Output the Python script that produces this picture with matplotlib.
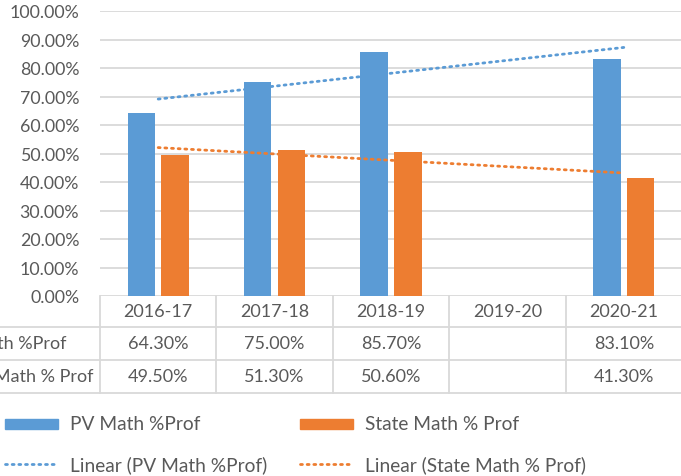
import numpy as np
import matplotlib.pyplot as plt
from matplotlib import transforms
from matplotlib.patches import Rectangle
from matplotlib.lines import Line2D

plt.rcParams['font.family'] = ['Lato', 'DejaVu Sans']

# data
years = ['2016-17', '2017-18', '2018-19', '2019-20', '2020-21']
pv_math = [64.3, 75.0, 85.7, np.nan, 83.1]
state_math = [49.5, 51.3, 50.6, np.nan, 41.3]
pv_label = 'PV Math %Prof'
state_label = 'State Math % Prof'

blue = '#5B9BD5'
orange = '#ED7D31'
txt = '#595959'
grid = '#D9D9D9'
dots = (0, (0.7, 1.7))

W, H = 681, 477
fig = plt.figure(figsize=(W / 100, H / 100), dpi=100)
fx = lambda p: p / W
fy = lambda p: 1 - p / H

ax = fig.add_axes([fx(100), fy(297), 582 / W, 285 / H])
x = np.arange(1, len(years) + 1)
pv = np.array(pv_math) / 100
st = np.array(state_math) / 100

bw = 0.235
ax.bar(x - 0.145, pv, bw, color=blue, zorder=3)
ax.bar(x + 0.145, st, bw, color=orange, zorder=3)

# linear trendlines (excel style, fitted on the available points)
for y, c in [(pv, blue), (st, orange)]:
    ok = ~np.isnan(y)
    k, b = np.polyfit(x[ok], y[ok], 1)
    xs = np.array([x[0], x[-1]])
    ax.plot(xs, k * xs + b, color=c, lw=2, ls=dots,
            dash_capstyle='round', zorder=4)

ax.set_xlim(0.5, len(years) + 0.5)
ax.set_ylim(0, 1.0)
ax.set_yticks(np.arange(0, 1.01, 0.1))
ax.set_yticklabels([f'{v * 100:.2f}%' for v in np.arange(0, 1.01, 0.1)],
                   fontsize=12.8, color=txt)
ax.tick_params(axis='y', length=0, pad=15)
ax.set_xticks([])
ax.grid(axis='y', color=grid, lw=1.3, zorder=0)
for s in ax.spines.values():
    s.set_visible(False)

# data table under the axis
tr = transforms.blended_transform_factory(ax.transData, fig.transFigure)
lkw = dict(color=grid, lw=1.3, clip_on=False)
for py in [328, 361, 394]:
    fig.add_artist(Line2D([0, 1], [fy(py), fy(py)], transform=fig.transFigure, **lkw))
fig.add_artist(Line2D([fx(100), fx(100)], [fy(297), fy(394)], transform=fig.transFigure, **lkw))
for bx in np.arange(1.5, len(years), 1.0):
    ax.plot([bx, bx], [fy(297), fy(394)], transform=tr, **lkw)

for i, yr in enumerate(years):
    ax.text(x[i], fy(312), yr, transform=tr, ha='center', va='center',
            fontsize=13, color=txt)
    for vals, py in [(pv_math, 344), (state_math, 377)]:
        if not np.isnan(vals[i]):
            ax.text(x[i], fy(py), f'{vals[i]:.2f}%', transform=tr, ha='center',
                    va='center', fontsize=13, color=txt)
fig.text(fx(67), fy(344), pv_label, ha='right', va='center', fontsize=13, color=txt)
fig.text(fx(93), fy(377), state_label, ha='right', va='center', fontsize=13, color=txt)

# legend
for lx, c, lab in [(5, blue, pv_label), (300, orange, state_label)]:
    fig.add_artist(Rectangle((fx(lx), fy(430)), 53 / W, 10 / H, color=c,
                             transform=fig.transFigure))
    fig.text(fx(lx + 65), fy(425), lab, ha='left', va='center', fontsize=13.8, color=txt)
    fig.add_artist(Line2D([fx(lx), fx(lx + 50)], [fy(465), fy(465)], color=c, lw=2,
                          ls=dots, dash_capstyle='round',
                          transform=fig.transFigure))
    fig.text(fx(lx + 65), fy(465), f'Linear ({lab})', ha='left', va='center',
             fontsize=13.8, color=txt)

fig.savefig('out.png', dpi=100)
